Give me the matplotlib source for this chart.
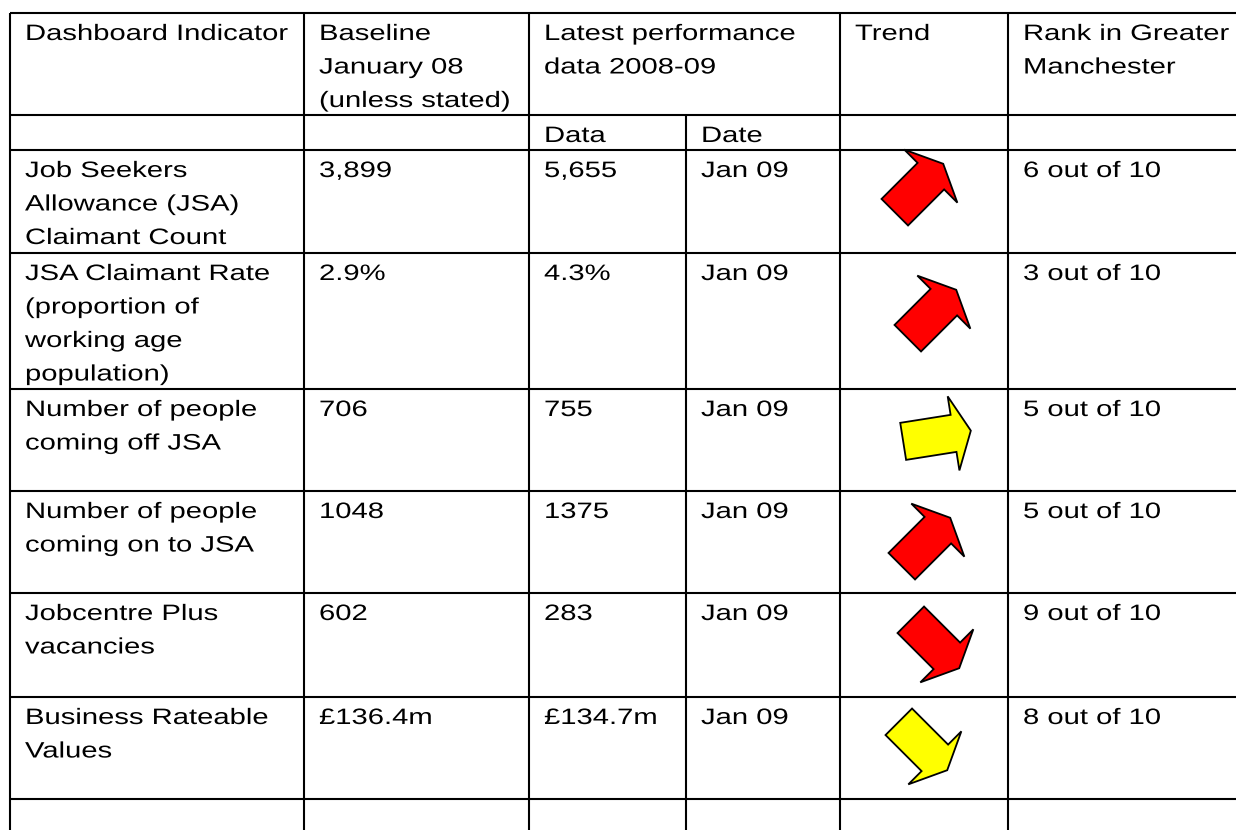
import matplotlib
matplotlib.use("Agg")
import matplotlib.pyplot as plt
import numpy as np
from matplotlib.patches import Polygon
from matplotlib.patheffects import AbstractPathEffect
from matplotlib.transforms import Affine2D

# ---------------- data ----------------
header_cols = ["Dashboard Indicator", "Baseline\nJanuary 08\n(unless stated)",
               "Latest performance\ndata 2008-09", "", "Trend",
               "Rank in Greater\nManchester"]
sub_header = ["", "", "Data", "Date", "", ""]
indicators = ["Job Seekers\nAllowance (JSA)\nClaimant Count",
              "JSA Claimant Rate\n(proportion of\nworking age\npopulation)",
              "Number of people\ncoming off JSA",
              "Number of people\ncoming on to JSA",
              "Jobcentre Plus\nvacancies",
              "Business Rateable\nValues"]
baseline_vals = ["3,899", "2.9%", "706", "1048", "602", "£136.4m"]
latest_vals = ["5,655", "4.3%", "755", "1375", "283", "£134.7m"]
latest_dates = ["Jan 09", "Jan 09", "Jan 09", "Jan 09", "Jan 09", "Jan 09"]
trend_angle = [45, 45, 9, 45, -45, -45]          # direction of trend arrow (deg, up = +)
trend_status = ["red", "red", "amber", "red", "red", "amber"]
ranks = ["6 out of 10", "3 out of 10", "5 out of 10", "5 out of 10",
         "9 out of 10", "8 out of 10"]

# ---------------- layout ----------------
W, H = 1236, 830
col_x = [10, 304, 529, 686, 840, 1008]
row_y = [13, 115, 150, 253, 389, 491, 593, 697, 799]
text_pad_x = 15
first_base = 27
line_step = 33.5
font_px = 22.3
stretch_x = 1.31
status_colors = {"red": "#FF0000", "amber": "#FFFF00"}
arrow_centers = [(919, 188), (932, 314), (937, 436), (926, 542), (935, 644), (923, 746)]


class StretchX(AbstractPathEffect):
    """Draw text glyphs stretched horizontally about their left anchor."""
    def __init__(self, sx):
        super().__init__()
        self.sx = sx

    def draw_path(self, renderer, gc, tpath, affine, rgbFace=None):
        renderer.draw_path(gc, tpath, Affine2D().scale(self.sx, 1.0) + affine, rgbFace)


plt.rcParams['font.family'] = ['Liberation Sans', 'DejaVu Sans']
fig = plt.figure(figsize=(W / 100, H / 100), dpi=100)
ax = fig.add_axes([0, 0, 1, 1])
ax.set_xlim(0, W)
ax.set_ylim(H, 0)
ax.axis("off")

fs = font_px * 72 / 100
pe = [StretchX(stretch_x)]


def put(col, row_top, text):
    for k, line in enumerate(text.split("\n")):
        ax.text(col_x[col] + text_pad_x, row_top + first_base + k * line_step, line,
                fontsize=fs, color="black", ha="left", va="baseline",
                path_effects=pe)


# grid lines
lw = 1.5
for y in row_y:
    ax.plot([col_x[0], W], [y, y], color="black", lw=lw, solid_capstyle="butt")
for i, x in enumerate(col_x):
    y0 = row_y[1] if i == 3 else row_y[0]
    ax.plot([x, x], [y0, H], color="black", lw=lw, solid_capstyle="butt")

# header
for c, t in enumerate(header_cols):
    if t:
        put(c, row_y[0], t)
for c, t in enumerate(sub_header):
    if t:
        put(c, row_y[1], t)

# arrow template (pixels): tail at 0, head base at 51, tip at 68.5
L_body, hw_body, hw_head, L_head = 51.0, 18.75, 37.5, 17.5
tmpl = np.array([[0, -hw_body], [L_body, -hw_body], [L_body, -hw_head],
                 [L_body + L_head, 0], [L_body, hw_head], [L_body, hw_body],
                 [0, hw_body]])
tmpl[:, 0] -= (L_body + L_head) / 2

for i in range(len(indicators)):
    top = row_y[i + 2]
    put(0, top, indicators[i])
    put(1, top, baseline_vals[i])
    put(2, top, latest_vals[i])
    put(3, top, latest_dates[i])
    put(5, top, ranks[i])
    a = np.deg2rad(trend_angle[i])
    # y axis points down, so "up" is negative y
    rot = np.array([[np.cos(a), -np.sin(a)], [np.sin(a), np.cos(a)]])
    pts = tmpl @ rot + np.array(arrow_centers[i])
    ax.add_patch(Polygon(pts, closed=True, facecolor=status_colors[trend_status[i]],
                         edgecolor="black", lw=1.3, joinstyle="miter"))

fig.savefig("out.png", dpi=100)
